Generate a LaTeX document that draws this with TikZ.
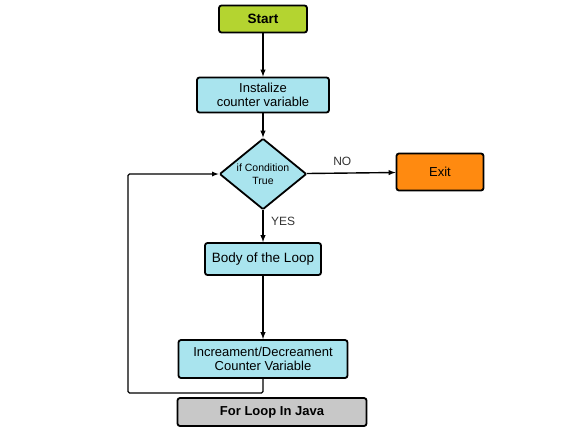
\documentclass[tikz,border=0pt]{standalone}
\usepackage{fontspec}
\setmainfont{Liberation Sans}
\usepackage{tikz}
\usetikzlibrary{shapes,arrows,positioning}
\definecolor{startgreen}{HTML}{B4D430}
\definecolor{boxcyan}{HTML}{A9E4EE}
\definecolor{exitorange}{HTML}{FF8A10}
\definecolor{titlegray}{HTML}{C8C8C8}
\definecolor{labelgray}{HTML}{333333}

\begin{document}
\begin{tikzpicture}[x=1pt,y=-1pt,
    block/.style={draw=black,line width=1.8pt,rounded corners=2.5pt,align=center,inner sep=0pt},
    flow/.style={line width=1.4pt,-latex},
    loopback/.style={line width=1.2pt,rounded corners=1.5pt,-latex},
    answer/.style={font=\fontsize{12}{14}\selectfont,color=labelgray}]
  \useasboundingbox (0,0) rectangle (575,431);

  % Blocks of the loop
  \node[block,fill=startgreen,minimum width=88pt,minimum height=27pt,font=\fontsize{13.5}{15}\selectfont\bfseries] (start) at (263,19) {Start};
  \node[block,fill=boxcyan,minimum width=132pt,minimum height=35pt,font=\fontsize{13}{14.5}\selectfont] (init) at (263,95) {Instalize\\counter variable};
  \node[block,diamond,aspect=1.2,fill=boxcyan,minimum width=87pt,minimum height=71pt,rounded corners=1pt,font=\fontsize{10.5}{12.5}\selectfont] (cond) at (263,174) {if Condition\\True};
  \node[block,fill=exitorange,minimum width=87pt,minimum height=37pt,font=\fontsize{13}{15}\selectfont] (exit) at (440,172) {Exit};
  \node[block,fill=boxcyan,minimum width=116pt,minimum height=32pt,font=\fontsize{13.5}{15}\selectfont] (body) at (263,259) {Body of the Loop};
  \node[block,fill=boxcyan,minimum width=169pt,minimum height=38pt,font=\fontsize{13}{14.5}\selectfont] (step) at (263,359) {Increament/Decreament\\Counter Variable};
  \node[block,fill=titlegray,minimum width=189pt,minimum height=28pt,font=\fontsize{13}{15}\selectfont\bfseries] (title) at (272,412) {For Loop In Java};

  % Connectors
  \draw[flow] (start) -- (init);
  \draw[flow] (init) -- (cond);
  \draw[flow] (cond) -- node[answer,above=3pt,pos=0.4] {NO} (exit);
  \draw[flow] (cond) -- node[answer,right=4pt,pos=0.35] {YES} (body);
  \draw[flow] (body) -- (step);

  % Back to the condition
  \coordinate (turn) at (128,393);
  \draw[loopback] (step.south) |- (turn) |- (cond.west);
\end{tikzpicture}
\end{document}
